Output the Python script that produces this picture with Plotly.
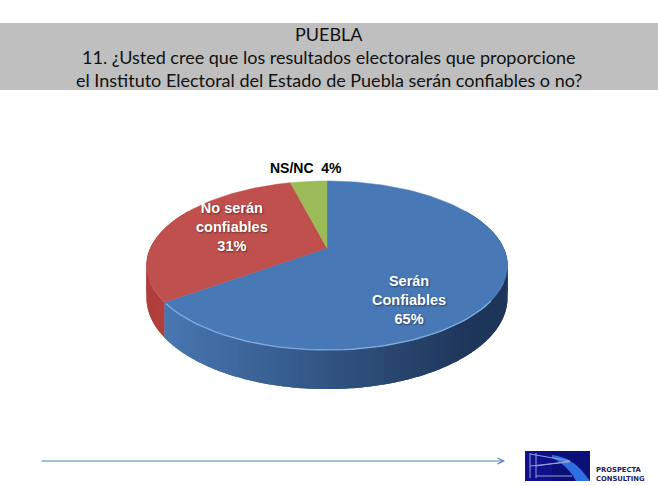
import numpy as np
import plotly.graph_objects as go

W, H = 658, 486
categories = ["Serán Confiables", "No serán confiables", "NS/NC"]
values = [65, 31, 4]
title_lines = ["PUEBLA",
               "11. ¿Usted cree que los resultados electorales que proporcione",
               "el Instituto Electoral del Estado de Puebla serán confiables o no?"]
top_colors = ["#4878b6", "#c0504d", "#9bbb59"]

# projection of the tilted disc
CX, CY, A, B, P, DEPTH = 327.0, 248.0, 176.6, 80.9, 0.207, 31.0

def top(t):
    u, v = np.sin(t), np.cos(t)
    w = 1 + P * v
    return CX + A * u / w, CY - B * v / w

def bottom(t):
    x, y = top(t)
    return x, y + DEPTH / (1 + P * np.cos(t))

def mix(c1, c2, f):
    f = min(max(f, 0), 1)
    return "rgb(%d,%d,%d)" % tuple(round(a + (b - a) * f) for a, b in zip(c1, c2))

fig = go.Figure()
fracs = np.cumsum([0] + values) / sum(values) * 2 * np.pi

# side wall: overlapping strips painted in order, so no seams show
edges = np.radians(np.arange(60, 300.1, 1.5))
edges = np.unique(np.concatenate([edges, [fracs[1]]]))
for j, (t0, t1) in enumerate(zip(edges[:-1], edges[1:])):
    t_end = min(t1 + np.radians(1.5), edges[-1])
    if t1 <= fracs[1] + 1e-9:
        t_end = min(t_end, fracs[1])
    ts = np.linspace(t0, t_end, 5)
    xt, yt = top(ts)
    xb, yb = bottom(ts[::-1])
    xm = (top((t0 + t1) / 2)[0] - (CX - A)) / (2 * A)
    if t1 <= fracs[1] + 1e-9:
        col = mix((72, 118, 176), (30, 54, 90), (xm - 0.05) / 0.85)
    else:
        col = mix((176, 62, 58), (192, 72, 68), xm * 4)
    fig.add_trace(go.Scatter(
        x=np.concatenate([xt, xb]), y=np.concatenate([yt, yb]),
        mode="none", fill="toself", fillcolor=col,
        hoverinfo="skip", showlegend=False))

# top faces
for i in range(len(values)):
    ts = np.linspace(fracs[i], fracs[i + 1], max(int(values[i] * 3), 12))
    xt, yt = top(ts)
    fig.add_trace(go.Scatter(
        x=np.concatenate([[CX], xt, [CX]]), y=np.concatenate([[CY], yt, [CY]]),
        mode="lines", fill="toself", fillcolor=top_colors[i],
        line=dict(color=top_colors[i], width=0.5), hoverinfo="skip", showlegend=False))

# rim highlight on the front edge
ts = np.radians(np.linspace(125, 233, 50))
xt, yt = top(ts)
fig.add_trace(go.Scatter(x=xt, y=yt, mode="lines",
                         line=dict(color="#7fa9dc", width=1.4),
                         hoverinfo="skip", showlegend=False))

# axis scale in page pixels
fig.update_xaxes(range=[0, W], visible=False, fixedrange=True)
fig.update_yaxes(range=[H, 0], visible=False, fixedrange=True)

shapes = [
    dict(type="rect", x0=0, x1=W, y0=23, y1=90, fillcolor="#bfbfbf", line_width=0, layer="below"),
    dict(type="rect", x0=525, x1=590, y0=451, y1=481, fillcolor="#0b0f78", line_width=0),
    dict(type="rect", x0=525, x1=552, y0=451, y1=481, fillcolor="#10108a", line_width=0),
    dict(type="path", path="M 552 455 C 568 457 578 464 590 481 L 576 481 C 570 470 562 462 552 458 Z",
         fillcolor="#2f6fe0", line_width=0),
    dict(type="path", path="M 530 454 L 570 461 L 536 466 M 530 466 L 570 462 M 536 453 L 536 478 M 530 453 L 530 478 M 536 476 L 572 476",
         line=dict(color="#8f9fd8", width=1)),
]

annotations = []
for line, y in zip(title_lines, [34, 57, 80]):
    annotations.append(dict(x=329, y=y, text=line, showarrow=False, xanchor="center", yanchor="middle",
                            font=dict(family="Lato", size=18, color="#111111")))

LBL = dict(family="Liberation Sans", size=14.5, color="white", shadow="1px 1px 2px rgba(0,0,0,0.45)", weight="bold")
label_text = [f"Serán<br>Confiables<br>{values[0]}%", f"No serán<br>confiables<br>{values[1]}%"]
for txt, (x, y) in zip(label_text, [(409, 300), (232, 227)]):
    annotations.append(dict(x=x, y=y, text=txt, showarrow=False, xanchor="center", yanchor="middle", font=LBL))
annotations.append(dict(x=306, y=168, text=f"{categories[2]}  {values[2]}%", showarrow=False,
                        xanchor="center", yanchor="middle",
                        font=dict(family="Liberation Sans", size=14, color="black", weight="bold")))
annotations.append(dict(x=505, y=461, ax=40, ay=461, axref="x", ayref="y", xref="x", yref="y", text="",
                        showarrow=True, arrowhead=5, arrowsize=1.2, arrowwidth=1, arrowcolor="#4a7ebb"))
annotations.append(dict(x=594, y=474, text="PROSPECTA<br>CONSULTING", showarrow=False, xanchor="left", yanchor="middle",
                        align="left",
                        font=dict(family="DejaVu Sans", size=6.8, color="#1c2260", weight="bold")))

fig.update_layout(width=W, height=H, margin=dict(l=0, r=0, t=0, b=0),
                  paper_bgcolor="white", plot_bgcolor="white", showlegend=False,
                  shapes=shapes, annotations=annotations)
fig.write_html("out.html", config={"displayModeBar": False}, default_width=W, default_height=H,
               post_script="document.body.style.margin='0';document.documentElement.style.overflow='hidden';")
